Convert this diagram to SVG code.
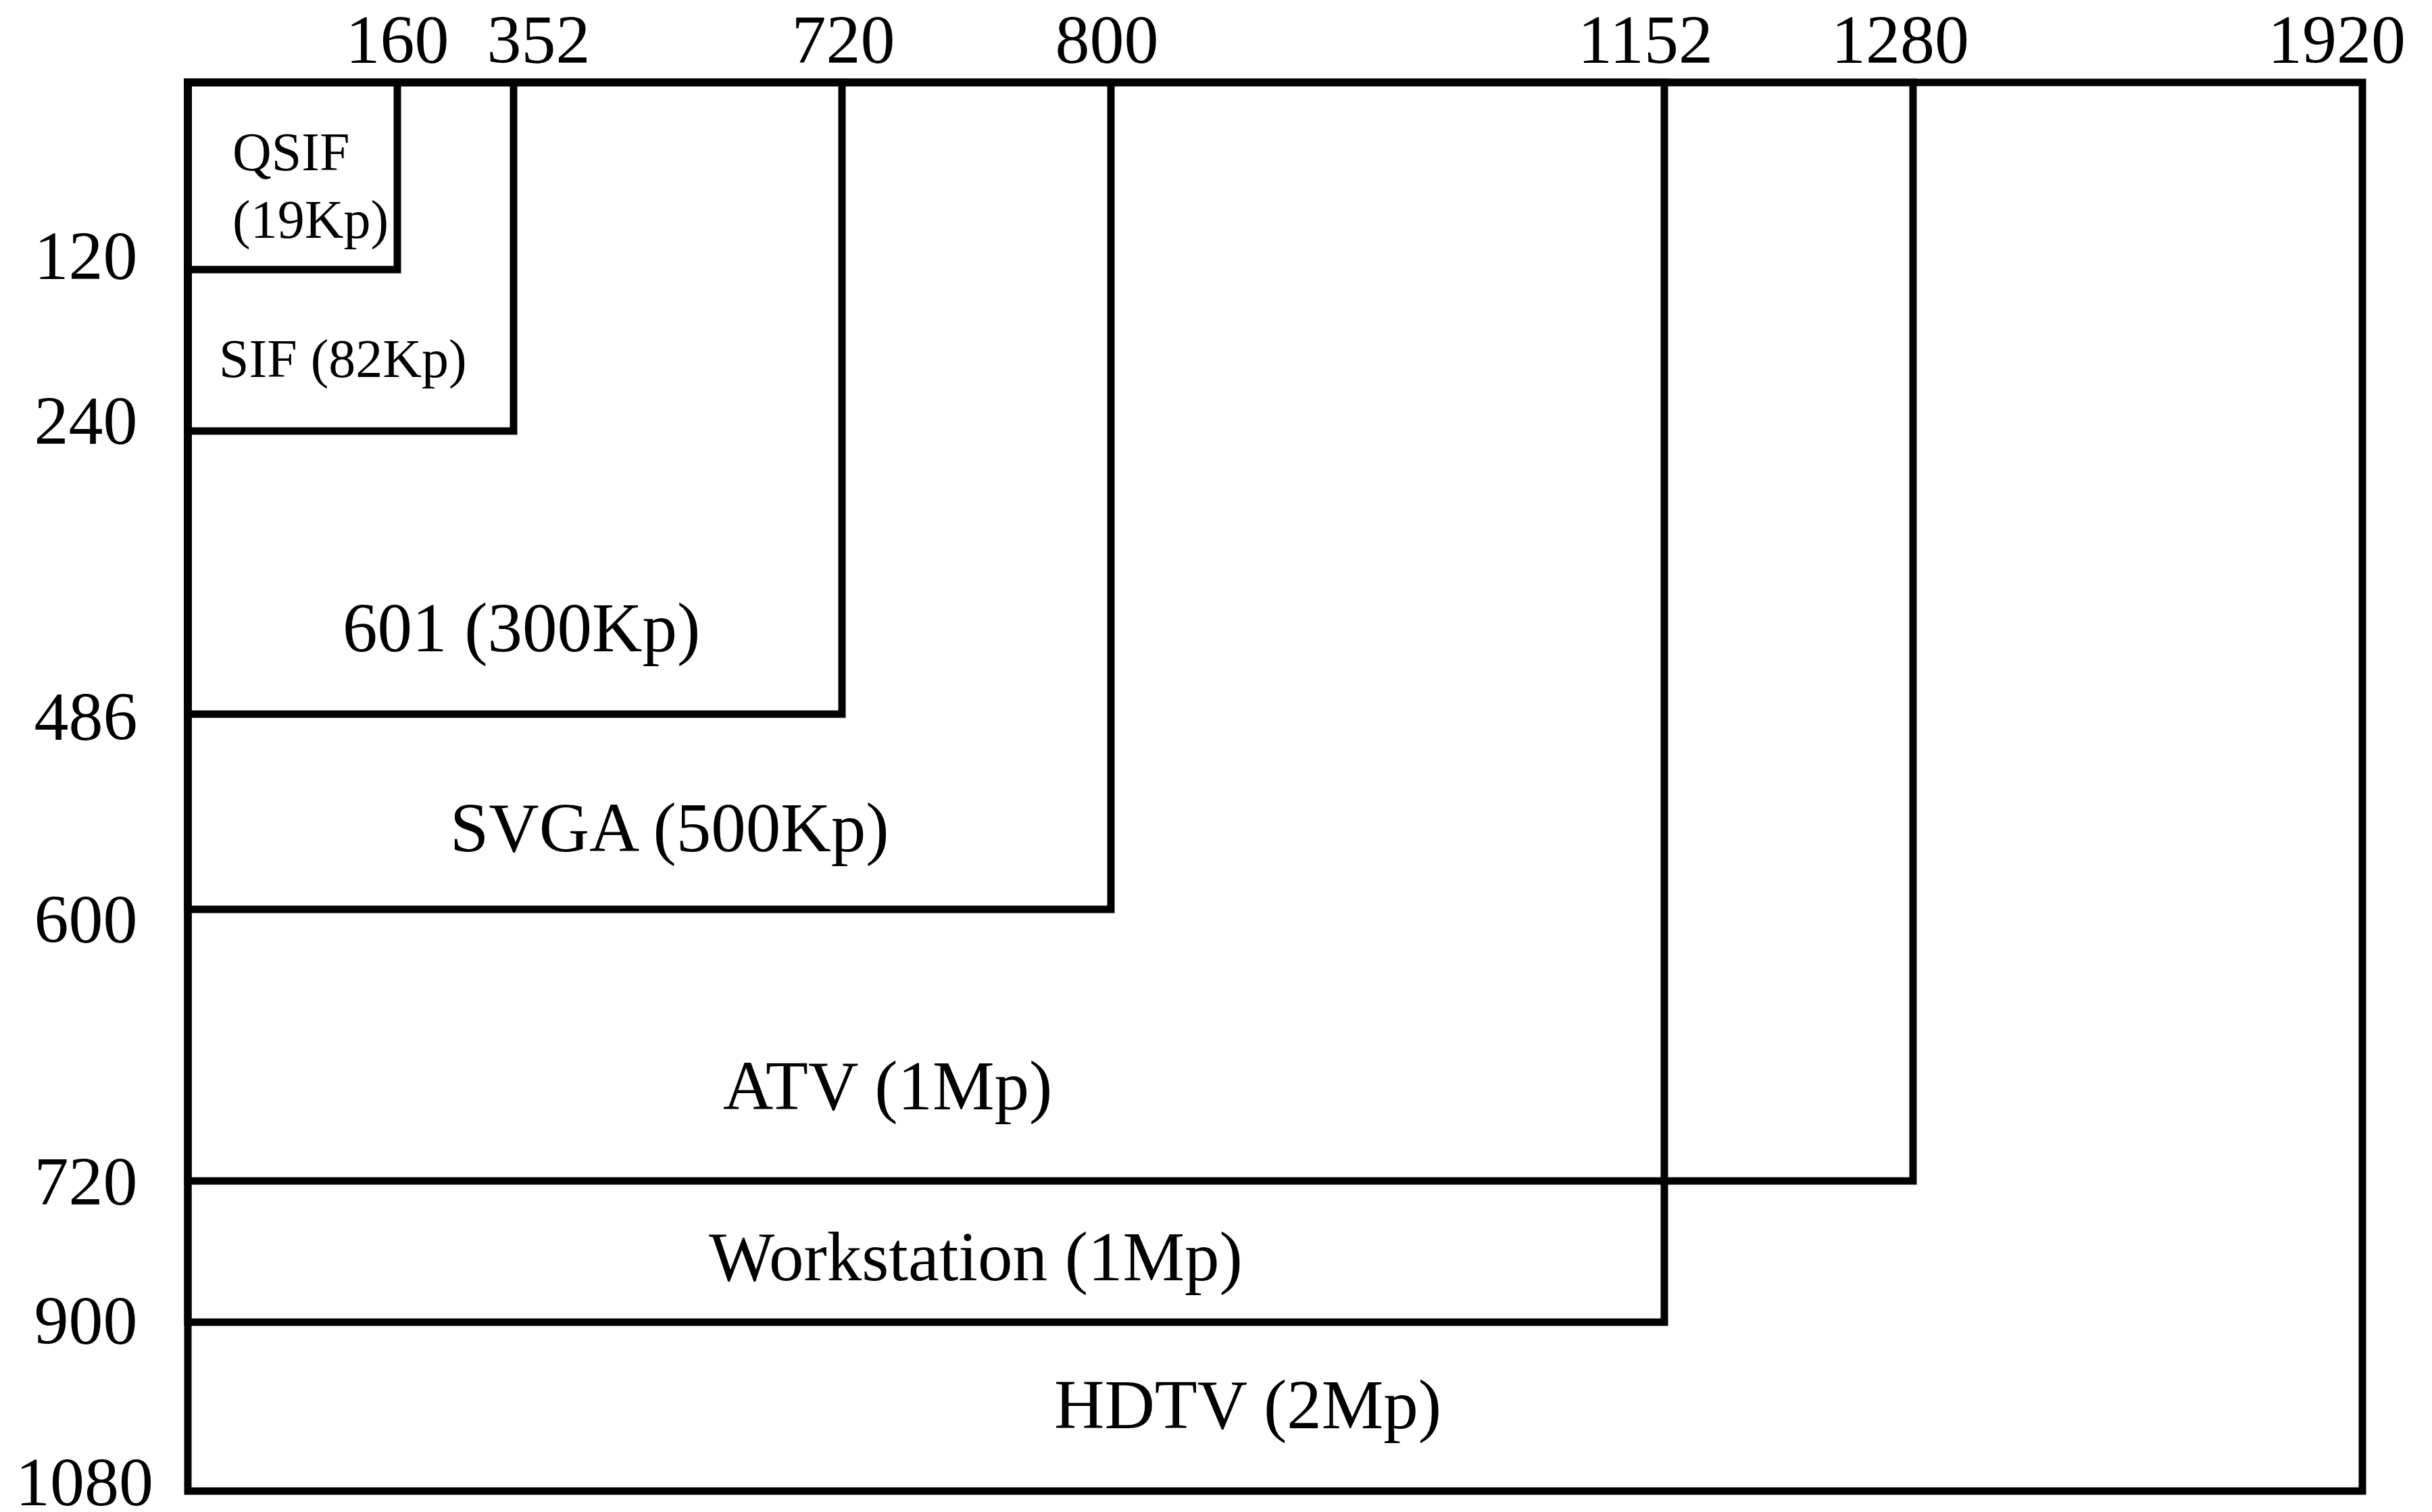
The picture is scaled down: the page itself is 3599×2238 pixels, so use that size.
<svg xmlns="http://www.w3.org/2000/svg" width="3599" height="2238" viewBox="0 0 3599 2238">
<style>
.box{fill:none;stroke:#000;stroke-width:11;stroke-linejoin:miter}
.ax{font-family:"Liberation Serif","Times New Roman",serif;font-size:102px;fill:#000;text-anchor:middle}
.lb{font-family:"Liberation Serif","Times New Roman",serif;font-size:103px;fill:#000}
.sm{font-family:"Liberation Serif","Times New Roman",serif;font-size:80px;fill:#000}
</style>
<rect width="3599" height="2238" fill="#fff"/>
<g id="hdtv"><rect class="box" x="278" y="122" width="3218" height="2085"/><text class="lb" x="1560" y="2114">HDTV (2Mp)</text></g>
<g id="workstation"><rect class="box" x="278" y="122" width="2185" height="1835"/><text class="lb" x="1049" y="1895">Workstation (1Mp)</text></g>
<g id="atv"><rect class="box" x="278" y="122" width="2553" height="1626"/><text class="lb" x="1070" y="1642">ATV (1Mp)</text></g>
<g id="svga"><rect class="box" x="278" y="122" width="1366" height="1224"/><text class="lb" x="666" y="1260">SVGA (500Kp)</text></g>
<g id="r601"><rect class="box" x="278" y="122" width="968" height="935"/><text class="lb" x="507" y="964">601 (300Kp)</text></g>
<g id="sif"><rect class="box" x="278" y="122" width="482" height="516"/><text class="sm" x="324" y="558">SIF (82Kp)</text></g>
<g id="qsif"><rect class="box" x="278" y="122" width="310" height="277"/><text class="sm" x="344" y="252">QSIF</text><text class="sm" x="344" y="352">(19Kp)</text></g>
<g id="axis-top">
<text class="ax" x="588" y="93">160</text>
<text class="ax" x="797" y="93">352</text>
<text class="ax" x="1248" y="93">720</text>
<text class="ax" x="1638" y="93">800</text>
<text class="ax" x="2435" y="93">1152</text>
<text class="ax" x="2812" y="93">1280</text>
<text class="ax" x="3458" y="93">1920</text>
</g>
<g id="axis-left">
<text class="ax" x="127" y="413">120</text>
<text class="ax" x="127" y="657">240</text>
<text class="ax" x="127" y="1095">486</text>
<text class="ax" x="127" y="1395">600</text>
<text class="ax" x="127" y="1783">720</text>
<text class="ax" x="127" y="1989">900</text>
<text class="ax" x="125" y="2228">1080</text>
</g>
</svg>
